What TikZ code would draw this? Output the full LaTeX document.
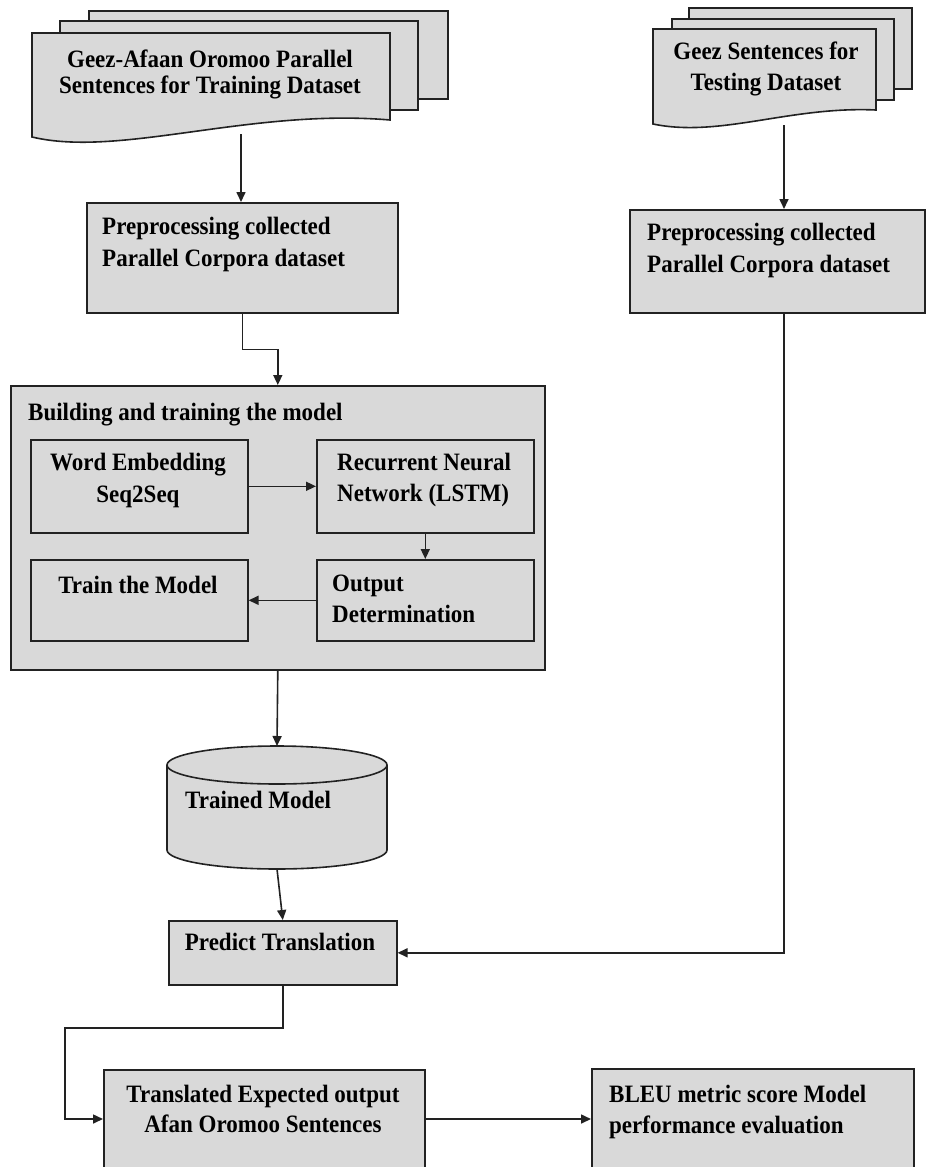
\documentclass[tikz,border=0pt]{standalone}
\usepackage{fontspec}
\setmainfont{Liberation Serif}[FakeStretch=0.92]
\usetikzlibrary{arrows.meta}
\definecolor{boxgray}{HTML}{D9D9D9}
\definecolor{linec}{HTML}{222222}
\begin{document}
\begin{tikzpicture}[x=1pt,y=-1pt,
  box/.style={draw=linec, fill=boxgray, line width=1.6pt, rectangle, inner sep=0pt, anchor=north west},
  docbox/.style={draw=linec, fill=boxgray, line width=1.6pt},
  lbl/.style={font=\fontsize{25}{31}\selectfont\bfseries, inner sep=0pt, text=black},
  lw/.style={lbl, anchor=base west},
  lc/.style={lbl, anchor=base},
  conn/.style={draw=linec, line width=1.6pt},
  arr/.style={conn, -{Triangle[length=10pt,width=9pt]}},
]
\useasboundingbox (0,0) rectangle (927,1167);

% ---- training document stack
\filldraw[docbox] (89,11) rectangle (448,99);
\filldraw[docbox] (60,21) rectangle (418,110);
\filldraw[docbox] (32,33) -- (390,33) -- (390,120) .. controls (250,108) and (120,158) .. (32,137) -- cycle;
\node[lc] (d1a) at (210,67) {Geez-Afaan Oromoo Parallel};
\node[lc] (d1b) at (210,93) {Sentences for Training Dataset};
\coordinate (d1out) at (241,134);

% ---- testing document stack
\filldraw[docbox] (689,8) rectangle (912,89);
\filldraw[docbox] (672,19) rectangle (894,100);
\filldraw[docbox] (653,29) -- (876,29) -- (876,110) .. controls (790,106) and (720,138) .. (653,124) -- cycle;
\node[lc] (d2a) at (766,59) {Geez Sentences for};
\node[lc] (d2b) at (766,90) {Testing Dataset};
\coordinate (d2out) at (784,125);

% ---- preprocessing boxes
\node[box, minimum width=311pt, minimum height=110pt] (pre1) at (86,202) {};
\node[lw] (pre1a) at (102,234) {Preprocessing collected};
\node[lw] (pre1b) at (102,266) {Parallel Corpora dataset};

\node[box, minimum width=295pt, minimum height=103pt] (pre2) at (629,209) {};
\node[lw] (pre2a) at (647,240) {Preprocessing collected};
\node[lw] (pre2b) at (647,272) {Parallel Corpora dataset};
\coordinate (p2top) at (784,209);
\coordinate (p2b) at (784,312);

% ---- building and training
\node[box, minimum width=534pt, minimum height=284pt] (big) at (10,385) {};
\node[lw] (bigt) at (28,420) {Building and training the model};

\node[box, minimum width=217pt, minimum height=93pt] (we) at (30,439) {};
\node[lc] (wea) at (138,470) {Word Embedding};
\node[lc] (web) at (138,502) {Seq2Seq};

\node[box, minimum width=217pt, minimum height=93pt] (rnn) at (316,439) {};
\node[lw] (rnna) at (337,470) {Recurrent Neural};
\node[lw] (rnnb) at (337,501) {Network (LSTM)};

\node[box, minimum width=217pt, minimum height=81pt] (train) at (30,559) {};
\node[lc] (traina) at (138,593) {Train the Model};

\node[box, minimum width=217pt, minimum height=81pt] (od) at (316,559) {};
\node[lw] (oda) at (332,591) {Output};
\node[lw] (odb) at (332,622) {Determination};

% ---- cylinder
\filldraw[docbox] (167,765) -- (167,850) arc[start angle=180, end angle=0, x radius=110, y radius=19]
  -- (387,765) arc[start angle=0, end angle=-180, x radius=110, y radius=19] -- cycle;
\draw[conn] (167,765) arc[start angle=180, end angle=0, x radius=110, y radius=19];
\node[lw] (cyla) at (185,808) {Trained Model};
\coordinate (cyltop) at (277,746);
\coordinate (cylbot) at (277,869);

% ---- predict, translated, bleu
\node[box, minimum width=228pt, minimum height=64pt] (pred) at (168,920) {};
\node[lc] (preda) at (280,950) {Predict Translation};

\node[box, minimum width=321pt, minimum height=110pt] (trans) at (103,1069) {};
\node[lc] (transa) at (263,1102) {Translated Expected output};
\node[lc] (transb) at (263,1132) {Afan Oromoo Sentences};
\coordinate (tin) at (103,1119);
\coordinate (tout) at (424,1119);

\node[box, minimum width=322pt, minimum height=110pt] (bleu) at (591,1068) {};
\node[lw] (bleua) at (609,1102) {BLEU metric score Model};
\node[lw] (bleub) at (609,1133) {performance evaluation};
\coordinate (bin) at (591,1119);

% ---- connectors
\draw[arr] (d1out) -- (d1out |- pre1.north);
\draw[arr] (pre1.south) -- ++(0,36) -| (big.north);
\draw[arr] (we) -- (rnn);
\draw[arr] (rnn) -- (od);
\draw[arr] (od) -- (train);
\draw[arr] (big.south) -- (cyltop);
\draw[arr] (cylbot) -- (pred.north);
\draw[arr] (d2out) -- (p2top);
\draw[arr] (p2b) |- (pred.east);
\draw[arr] (pred.south) |- (65,1028) |- (tin);
\draw[arr] (tout) -- (bin);
\end{tikzpicture}
\end{document}
